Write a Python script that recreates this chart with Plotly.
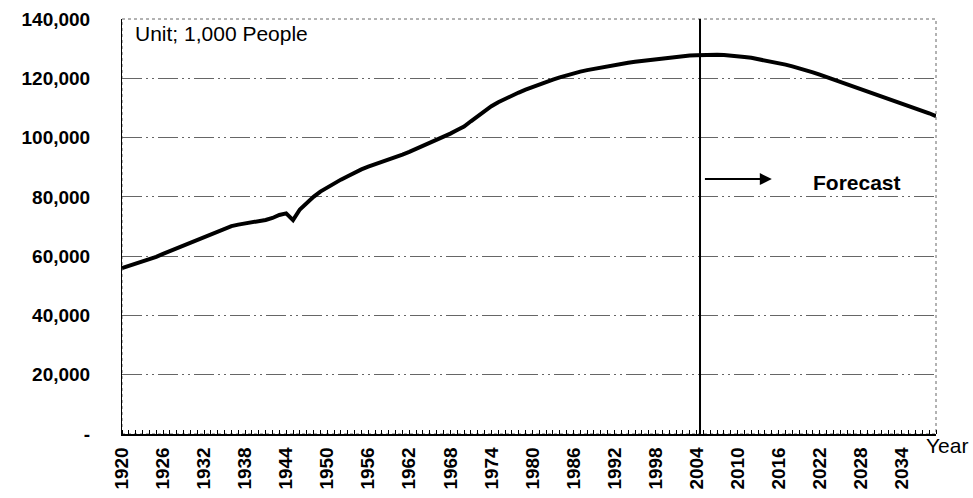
import plotly.graph_objects as go

# Population of Japan, unit 1,000 people (forecast from 2005 on)
years = list(range(1920, 2040))
population = [
    55963, 56666, 57390, 58119, 58876, 59737, 60741, 61659, 62595, 63461,
    64450, 65457, 66434, 67432, 68309, 69254, 70114, 70630, 71013, 71380,
    71933, 72218, 72880, 73903, 74433, 72147, 75750, 78101, 80002, 81773,
    83200, 84541, 85808, 86981, 88239, 89276, 90172, 90928, 91767, 92641,
    93419, 94287, 95181, 96156, 97182, 98275, 99036, 100196, 101331, 102536,
    103720, 105500, 107300, 109000, 110573, 111940, 113094, 114165, 115190, 116155,
    117060, 117902, 118728, 119536, 120305, 121049, 121660, 122239, 122745, 123205,
    123611, 124101, 124567, 124938, 125265, 125570, 125864, 126166, 126486, 126686,
    126926, 127316, 127486, 127694, 127787, 127900, 128000, 127950, 127850, 127700,
    127500, 127200, 126900, 126500, 126100, 125700, 125100, 124600, 124000, 123400,
    122700, 122000, 121200, 120400, 119600, 118800, 118000, 117200, 116400, 115600,
    114800, 114000, 113200, 112400, 111600, 110800, 110000, 109100, 108200, 107200,
]
tick_years = list(range(1920, 2035, 6))
y_ticks = [0, 20000, 40000, 60000, 80000, 100000, 120000, 140000]
y_labels = ["-", "20,000", "40,000", "60,000", "80,000", "100,000", "120,000", "140,000"]
forecast_start = 2004.5

FONT = "Liberation Sans, Arial, sans-serif"

fig = go.Figure()
fig.add_trace(go.Scatter(x=years, y=population, mode="lines",
                         line=dict(color="black", width=4),
                         hoverinfo="x+y", showlegend=False))

# plot frame (dotted) and forecast divider
fig.add_shape(type="rect", xref="paper", yref="paper", x0=0, x1=1, y0=0, y1=1,
              line=dict(color="#666", width=1, dash="dot"), layer="below")
fig.add_shape(type="line", xref="x", yref="paper", x0=forecast_start, x1=forecast_start,
              y0=0, y1=1, line=dict(color="black", width=2))

fig.add_annotation(x=2015, y=86000, ax=2005, ay=86000, xref="x", yref="y",
                   axref="x", ayref="y", text="", showarrow=True,
                   arrowhead=2, arrowsize=1.2, arrowwidth=2, arrowcolor="black")
fig.add_annotation(x=2027.5, y=85000, xref="x", yref="y", text="<b>Forecast</b>",
                   showarrow=False, font=dict(family=FONT, size=21, color="black"))
fig.add_annotation(x=0.013, y=0.964, xref="paper", yref="paper", text="Unit; 1,000 People",
                   showarrow=False, xanchor="left", yanchor="middle",
                   font=dict(family=FONT, size=21, color="black"))
fig.add_annotation(x=1.013, y=-0.028, xref="paper", yref="paper", text="Year",
                   showarrow=False, xanchor="center", yanchor="middle",
                   font=dict(family=FONT, size=21, color="black"))

fig.update_layout(
    width=973, height=498,
    margin=dict(l=122, r=37, t=19, b=64),
    plot_bgcolor="white", paper_bgcolor="white",
    font=dict(family=FONT, color="black"),
)
fig.update_xaxes(
    range=[1920, 2039], tickmode="array", tickvals=tick_years,
    ticktext=[str(y) for y in tick_years], tickangle=-90, automargin=False,
    tickfont=dict(family=FONT, size=19, weight="bold"),
    showgrid=False, zeroline=False, showline=True, linecolor="black", linewidth=1.5,
    ticks="", ticklabelstandoff=4,
    minor=dict(dtick=1, ticks="inside", ticklen=4, tickcolor="black", tickwidth=1),
)
fig.update_yaxes(
    range=[0, 140000], tickmode="array", tickvals=y_ticks, ticktext=y_labels,
    tickfont=dict(family=FONT, size=19, weight="bold"), automargin=False,
    showgrid=True, gridcolor="#666", gridwidth=1, griddash="20px,4px,2px,4px,2px,4px",
    zeroline=False, showline=True, linecolor="black", linewidth=1,
    ticks="", ticklabelstandoff=27,
)

# the page body has a default 8px margin; drop it so the figure sits at the origin
fig.write_html("out.html", config={"displayModeBar": False},
               post_script="document.body.style.margin='0';")
